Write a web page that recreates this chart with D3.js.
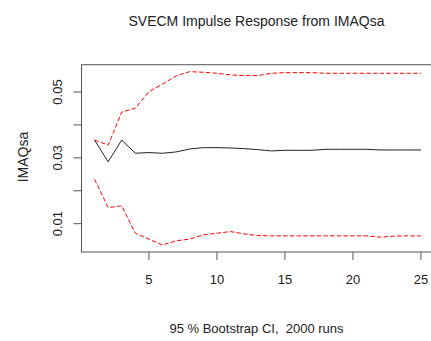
<!DOCTYPE html>
<html>
<head>
<meta charset="utf-8">
<script src="https://cdn.jsdelivr.net/npm/d3@7"></script>
<style>
  body { margin: 0; background: #fff; }
  svg text { font-family: "Liberation Sans", Arial, sans-serif; fill: #222; white-space: pre; }
</style>
</head>
<body>
<svg id="chart" width="431" height="341"></svg>
<script>
// horizon steps 1..25
var steps = d3.range(1, 26);

// impulse response of IMAQsa
var response = [0.0354, 0.0288, 0.0354, 0.0314, 0.0316, 0.0314, 0.0318, 0.0327, 0.0331, 0.0331,
                0.0330, 0.0328, 0.0325, 0.0321, 0.0323, 0.0323, 0.0323, 0.0326, 0.0326, 0.0326,
                0.0326, 0.0324, 0.0324, 0.0324, 0.0324];

// upper bootstrap band
var upper = [0.0354, 0.0339, 0.0439, 0.0451, 0.0501, 0.0524, 0.0549, 0.0562, 0.0560, 0.0557,
             0.0552, 0.0550, 0.0550, 0.0557, 0.0559, 0.0559, 0.0559, 0.0557, 0.0557, 0.0557,
             0.0557, 0.0557, 0.0557, 0.0557, 0.0557];

// lower bootstrap band
var lower = [0.0235, 0.0149, 0.0154, 0.0071, 0.0053, 0.0035, 0.0048, 0.0053, 0.0066, 0.0071,
             0.0076, 0.0069, 0.0064, 0.0063, 0.0063, 0.0063, 0.0063, 0.0063, 0.0063, 0.0063,
             0.0063, 0.0059, 0.0062, 0.0063, 0.0063];

var xTicks = [5, 10, 15, 20, 25];
var yTicks = [0.01, 0.02, 0.03, 0.04, 0.05];
var yLabels = [0.01, 0.03, 0.05];

var svg = d3.select("#chart");

// plot region (R style 4% padding on the data range)
var plotLeft = 81.5, plotRight = 434, plotTop = 64.7, plotBottom = 252;

var xMin = d3.min(steps), xMax = d3.max(steps);
var xPad = (xMax - xMin) * 0.04;
var x = d3.scaleLinear()
    .domain([xMin - xPad, xMax + xPad])
    .range([plotLeft, plotRight]);

var allVals = lower.concat(response, upper);
var yMin = d3.min(allVals), yMax = d3.max(allVals);
var yPad = (yMax - yMin) * 0.04;
var y = d3.scaleLinear()
    .domain([yMin - yPad, yMax + yPad])
    .range([plotBottom, plotTop]);

// box
svg.append("rect")
    .attr("x", plotLeft)
    .attr("y", plotTop)
    .attr("width", plotRight - plotLeft)
    .attr("height", plotBottom - plotTop)
    .attr("fill", "none")
    .attr("stroke", "#555")
    .attr("stroke-width", 1);

// x axis ticks
var xAxis = svg.append("g");
xAxis.selectAll("line")
    .data(xTicks)
    .enter().append("line")
    .attr("x1", function(d) { return x(d); })
    .attr("x2", function(d) { return x(d); })
    .attr("y1", plotBottom)
    .attr("y2", plotBottom + 8)
    .attr("stroke", "#555");
xAxis.selectAll("text")
    .data(xTicks)
    .enter().append("text")
    .attr("x", function(d) { return x(d); })
    .attr("y", plotBottom + 32)
    .attr("text-anchor", "middle")
    .attr("font-size", "13px")
    .text(function(d) { return d; });

// y axis ticks
var yAxis = svg.append("g");
yAxis.selectAll("line")
    .data(yTicks)
    .enter().append("line")
    .attr("x1", plotLeft - 8)
    .attr("x2", plotLeft)
    .attr("y1", function(d) { return y(d); })
    .attr("y2", function(d) { return y(d); })
    .attr("stroke", "#555");
yAxis.selectAll("text")
    .data(yLabels)
    .enter().append("text")
    .attr("transform", function(d) {
        return "translate(" + 62 + "," + y(d) + ") rotate(-90)";
    })
    .attr("text-anchor", "middle")
    .attr("font-size", "13px")
    .text(function(d) { return d3.format(".2f")(d); });

// lines
var line = function(vals) {
    return d3.line()
        .x(function(d, i) { return x(steps[i]); })
        .y(function(d) { return y(d); })(vals);
};

svg.append("path")
    .attr("d", line(upper))
    .attr("fill", "none")
    .attr("stroke", "#ff0000")
    .attr("stroke-dasharray", "4.5,2.2");

svg.append("path")
    .attr("d", line(lower))
    .attr("fill", "none")
    .attr("stroke", "#ff0000")
    .attr("stroke-dasharray", "4.5,2.2");

svg.append("path")
    .attr("d", line(response))
    .attr("fill", "none")
    .attr("stroke", "#222")
    .attr("stroke-width", 1);

// titles
svg.append("text")
    .attr("x", 256.5)
    .attr("y", 26)
    .attr("text-anchor", "middle")
    .attr("font-size", "14px")
    .text("SVECM Impulse Response from IMAQsa");

svg.append("text")
    .attr("transform", "translate(" + 28 + "," + 157 + ") rotate(-90)")
    .attr("text-anchor", "middle")
    .attr("font-size", "14px")
    .text("IMAQsa");

svg.append("text")
    .attr("x", 256.5)
    .attr("y", 333)
    .attr("text-anchor", "middle")
    .attr("font-size", "13px")
    .text("95 % Bootstrap CI,  2000 runs");
</script>
</body>
</html>
